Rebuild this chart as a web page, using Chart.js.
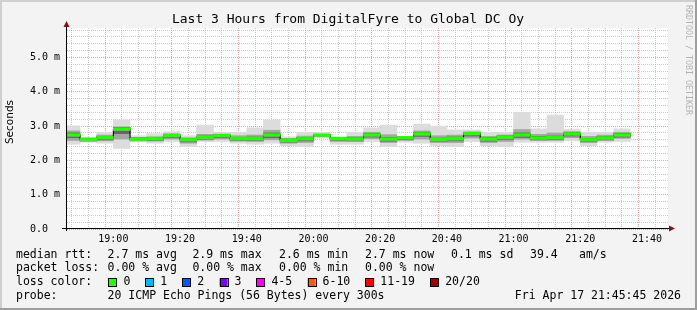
<!DOCTYPE html>
<html>
<head>
<meta charset="utf-8">
<script src="https://cdn.jsdelivr.net/npm/chart.js@4/dist/chart.umd.min.js"></script>
<style>
  html, body { margin: 0; padding: 0; background: #f3f3f3; }
  #wrap { width: 697px; height: 310px; }
</style>
</head>
<body>
<div id="wrap"><canvas id="chart" width="697" height="310"></canvas></div>
<script>
// 5 minute steps (start time of each step)
const steps = ['18:45','18:50','18:55','19:00','19:05','19:10','19:15','19:20','19:25','19:30','19:35','19:40',
  '19:45','19:50','19:55','20:00','20:05','20:10','20:15','20:20','20:25','20:30','20:35','20:40',
  '20:45','20:50','20:55','21:00','21:05','21:10','21:15','21:20','21:25','21:30'];

// values in ms
const median = [2.74,2.61,2.66,2.91,2.61,2.63,2.72,2.60,2.67,2.72,2.63,2.63,
  2.74,2.58,2.63,2.73,2.63,2.62,2.74,2.62,2.66,2.77,2.61,2.63,
  2.78,2.62,2.67,2.74,2.65,2.66,2.77,2.60,2.65,2.74];
const minRtt = [2.47,2.53,2.50,2.35,2.55,2.50,2.55,2.40,2.55,2.55,2.50,2.47,
  2.50,2.43,2.40,2.65,2.47,2.47,2.55,2.40,2.53,2.50,2.43,2.40,
  2.55,2.43,2.40,2.53,2.53,2.53,2.57,2.43,2.53,2.55];
const maxRtt = [3.01,2.68,2.82,3.18,2.72,2.78,2.84,2.72,3.03,2.82,2.82,2.95,
  3.18,2.69,2.82,2.82,2.69,2.82,2.95,3.03,2.69,3.06,3.00,2.89,
  2.89,2.82,2.82,3.40,2.92,3.32,2.91,2.82,2.82,2.92];
const lowQ = [2.58,2.56,2.57,2.62,2.57,2.56,2.62,2.50,2.59,2.62,2.56,2.55,
  2.60,2.50,2.52,2.69,2.55,2.55,2.63,2.52,2.58,2.62,2.52,2.52,
  2.65,2.52,2.55,2.62,2.58,2.58,2.66,2.52,2.58,2.64];
const highQ = [2.86,2.65,2.74,2.98,2.67,2.69,2.78,2.66,2.76,2.77,2.72,2.74,
  2.88,2.64,2.71,2.77,2.66,2.70,2.82,2.75,2.68,2.86,2.72,2.74,
  2.83,2.70,2.74,2.90,2.76,2.80,2.84,2.70,2.74,2.82];
const coreLo = [2.66,2.57,2.60,2.78,2.58,2.58,2.66,2.54,2.62,2.66,2.58,2.58,
  2.66,2.53,2.57,2.70,2.58,2.57,2.68,2.56,2.61,2.70,2.56,2.57,
  2.71,2.56,2.61,2.67,2.60,2.61,2.71,2.55,2.60,2.68];
const coreHi = [2.80,2.64,2.70,2.96,2.65,2.67,2.76,2.64,2.71,2.76,2.67,2.68,
  2.80,2.62,2.67,2.76,2.65,2.66,2.79,2.67,2.68,2.82,2.65,2.68,
  2.82,2.66,2.71,2.80,2.70,2.71,2.81,2.64,2.69,2.79];

const yTickLabels = ['0.0  ','1.0 m','2.0 m','3.0 m','4.0 m','5.0 m'];
const xTickLabels = ['19:00','19:20','19:40','20:00','20:20','20:40','21:00','21:20','21:40'];
const lossLabels = ['0','1','2','3','4-5','6-10','11-19','20/20'];
const lossColors = ['#26ff00','#00b8ff','#0059ff','#7e00ff','#ff00ff','#ff5a00','#ff0000','#a00000'];

// minutes since 18:00
const toMin = t => { const p = t.split(':'); return (+p[0] - 18) * 60 + (+p[1]); };
const fmt = m => { const h = 18 + Math.floor(m / 60), mm = m % 60; return h + ':' + (mm < 10 ? '0' : '') + mm; };
const starts = steps.map(toMin);
const centers = starts.map(s => s + 2.5);

const band = (lo, hi) => centers.map((x, i) => ({ x: x, y: [lo[i], hi[i]] }));
const greenBar = centers.map((x, i) => ({ x: x, y: [median[i] - 0.04, median[i] + 0.04] }));
// points at step ends, value applies to the interval before each point
const blackLine = [{ x: starts[0], y: median[0] }].concat(starts.map((x, i) => ({ x: x + 5, y: median[i] })));

const mono = "'DejaVu Sans Mono', monospace";

const decor = {
  id: 'decor',
  beforeDraw(chart) {
    const ctx = chart.ctx, a = chart.chartArea;
    ctx.save();
    ctx.fillStyle = '#f3f3f3';
    ctx.fillRect(0, 0, chart.width, chart.height);
    ctx.fillStyle = '#ffffff';
    ctx.fillRect(a.left, a.top, a.right - a.left, a.bottom - a.top);
    ctx.restore();
  },
  afterDraw(chart) {
    const ctx = chart.ctx, a = chart.chartArea;
    ctx.save();
    // frame
    ctx.fillStyle = '#cfcfcf';
    ctx.fillRect(0, 0, chart.width, 2);
    ctx.fillRect(0, 0, 2, chart.height);
    ctx.fillStyle = '#9e9e9e';
    ctx.fillRect(0, chart.height - 2, chart.width, 2);
    ctx.fillRect(chart.width - 2, 0, 2, chart.height);

    // axes
    ctx.strokeStyle = '#000';
    ctx.lineWidth = 1;
    ctx.beginPath();
    ctx.moveTo(a.left - 0.5, a.bottom + 2);
    ctx.lineTo(a.left - 0.5, a.top - 3);
    ctx.moveTo(a.left - 5, a.bottom - 0.5);
    ctx.lineTo(a.right + 2, a.bottom - 0.5);
    ctx.stroke();
    ctx.fillStyle = '#8b1010';
    ctx.beginPath();
    ctx.moveTo(a.left - 0.5, a.top - 7);
    ctx.lineTo(a.left - 3.5, a.top - 1);
    ctx.lineTo(a.left + 2.5, a.top - 1);
    ctx.closePath();
    ctx.fill();
    ctx.beginPath();
    ctx.moveTo(a.right + 7, a.bottom - 0.5);
    ctx.lineTo(a.right + 1, a.bottom - 3.5);
    ctx.lineTo(a.right + 1, a.bottom + 2.5);
    ctx.closePath();
    ctx.fill();

    // title
    ctx.fillStyle = '#000';
    ctx.font = '13px ' + mono;
    ctx.textAlign = 'center';
    ctx.textBaseline = 'middle';
    ctx.fillText('Last 3 Hours from DigitalFyre to Global DC Oy', 348, 19.5);

    // y title
    ctx.save();
    ctx.translate(10, 122);
    ctx.rotate(-Math.PI / 2);
    ctx.font = "10.5px 'DejaVu Sans', sans-serif";
    ctx.fillText('Seconds', 0, 0);
    ctx.restore();

    // watermark
    ctx.save();
    ctx.translate(688, 5);
    ctx.rotate(Math.PI / 2);
    ctx.fillStyle = '#b4b4b4';
    ctx.font = '8.3px ' + mono;
    ctx.textAlign = 'left';
    ctx.fillText('RRDTOOL / TOBI OETIKER', 0, 0);
    ctx.restore();

    // legend
    ctx.font = '11.5px ' + mono;
    ctx.textAlign = 'left';
    ctx.fillStyle = '#000';
    const line = (y, items) => items.forEach(it => ctx.fillText(it[1], it[0], y));
    line(255, [[16,'median rtt:'],[107.6,'2.7 ms avg'],[192.4,'2.9 ms max'],[279,'2.6 ms min'],
      [365,'2.7 ms now'],[451,'0.1 ms sd'],[530,'39.4'],[579,'am/s']]);
    line(268.5, [[16,'packet loss:'],[107.6,'0.00 % avg'],[192.4,'0.00 % max'],[279,'0.00 % min'],[365,'0.00 % now']]);
    line(282.5, [[16,'loss color:']]);
    const swX = [108.4,145.3,182.2,219.6,256.4,307.6,365.3,430.2];
    lossLabels.forEach((lab, i) => {
      ctx.fillStyle = lossColors[i];
      ctx.fillRect(swX[i], 278.5, 8, 8);
      ctx.strokeStyle = '#000';
      ctx.strokeRect(Math.round(swX[i]) + 0.5, 278.5, 8, 8);
      ctx.fillStyle = '#000';
      ctx.fillText(lab, swX[i] + 15, 282.5);
    });
    line(296, [[16,'probe:'],[107.6,'20 ICMP Echo Pings (56 Bytes) every 300s']]);
    ctx.textAlign = 'right';
    ctx.fillText('Fri Apr 17 21:45:45 2026', 681, 296);
    ctx.restore();
  }
};

const barOpts = { type: 'bar', grouped: false, barPercentage: 1, categoryPercentage: 1, borderWidth: 0, clip: 0 };

new Chart(document.getElementById('chart').getContext('2d'), {
  type: 'bar',
  data: {
    datasets: [
      Object.assign({ label: 'median', data: greenBar, backgroundColor: '#26ff00', order: 1 }, barOpts),
      { type: 'line', label: 'edge', data: blackLine, stepped: 'after', borderColor: '#000', borderWidth: 1,
        pointRadius: 0, fill: false, order: 2, clip: 0 },
      Object.assign({ label: 'core', data: band(coreLo, coreHi), backgroundColor: '#666666', order: 3 }, barOpts),
      Object.assign({ label: 'mid', data: band(lowQ, highQ), backgroundColor: '#a6a6a6', order: 4 }, barOpts),
      Object.assign({ label: 'outer', data: band(minRtt, maxRtt), backgroundColor: '#dcdcdc', order: 5 }, barOpts)
    ]
  },
  options: {
    responsive: false,
    animation: false,
    devicePixelRatio: 1,
    layout: { padding: { left: 0, right: 29, top: 28, bottom: 0 } },
    plugins: { legend: { display: false }, tooltip: { enabled: false }, title: { display: false } },
    scales: {
      x: {
        type: 'linear',
        offset: false,
        min: 46.1,
        max: 226.3,
        afterFit: s => { s.height = 81; },
        afterBuildTicks: s => {
          const t = [];
          for (let m = 50; m <= 225; m += 5) t.push({ value: m });
          s.ticks = t;
        },
        ticks: {
          autoSkip: false, maxRotation: 0, padding: 4, color: '#000',
          font: { family: mono, size: 10 },
          callback: v => { const l = fmt(v); return xTickLabels.includes(l) ? l : ''; }
        },
        grid: {
          drawTicks: false,
          color: c => (c.tick && c.tick.value % 20 === 0) ? 'rgba(235,120,120,0.7)' : 'rgba(175,175,175,0.65)'
        },
        border: { display: false, dash: [1, 1] }
      },
      y: {
        type: 'linear',
        min: 0,
        max: 5.86,
        afterFit: s => { s.width = 67; },
        afterBuildTicks: s => {
          const t = [];
          for (let i = 0; i <= 29; i++) t.push({ value: Math.round(i * 2) / 10 });
          s.ticks = t;
        },
        ticks: {
          autoSkip: false, padding: 7, color: '#000',
          font: { family: mono, size: 10 },
          callback: v => (Math.abs(v - Math.round(v)) < 1e-6) ? yTickLabels[Math.round(v)] : ''
        },
        grid: {
          drawTicks: false,
          color: c => (c.tick && Math.abs(c.tick.value - Math.round(c.tick.value)) < 1e-6) ? 'rgba(235,120,120,0.7)' : 'rgba(175,175,175,0.65)'
        },
        border: { display: false, dash: [1, 1] }
      }
    }
  },
  plugins: [decor]
});
</script>
</body>
</html>
